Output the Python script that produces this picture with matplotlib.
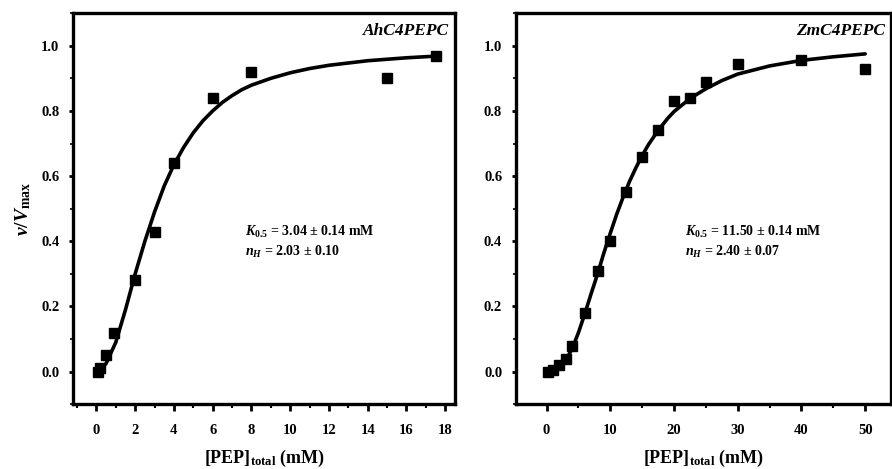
import matplotlib
matplotlib.use("Agg")
import matplotlib.pyplot as plt
from matplotlib.ticker import MultipleLocator

plt.rcParams["font.family"] = ["Liberation Serif", "DejaVu Serif"]
plt.rcParams["font.weight"] = "bold"
plt.rcParams["mathtext.fontset"] = "custom"
plt.rcParams["mathtext.rm"] = "Liberation Serif:bold"
plt.rcParams["mathtext.it"] = "Liberation Serif:italic:bold"

# AhC4PEPC: measured points
ah_x = [0.1, 0.2, 0.5, 0.9, 2, 3, 4, 6, 8, 15, 17.5]
ah_y = [0.0, 0.01, 0.05, 0.12, 0.28, 0.43, 0.64, 0.84, 0.92, 0.90, 0.967]
# AhC4PEPC: fitted curve
ah_fit_x = [0.1, 0.5, 1.0, 1.5, 2.0, 2.5, 3.0, 3.5, 4.0, 4.5, 5.0, 5.5, 6.0,
            6.5, 7.0, 7.5, 8.0, 9.0, 10, 11, 12, 14, 16, 17.5]
ah_fit_y = [0.0, 0.025, 0.09, 0.19, 0.30, 0.40, 0.49, 0.57, 0.635, 0.688,
            0.733, 0.77, 0.80, 0.826, 0.847, 0.865, 0.879, 0.90, 0.917, 0.93,
            0.94, 0.954, 0.963, 0.968]

# ZmC4PEPC: measured points
zm_x = [0.25, 1, 2, 3, 4, 6, 8, 10, 12.5, 15, 17.5, 20, 22.5, 25, 30, 40, 50]
zm_y = [0.0, 0.005, 0.02, 0.04, 0.08, 0.18, 0.31, 0.40, 0.55, 0.66, 0.74,
        0.83, 0.84, 0.89, 0.945, 0.955, 0.93]
# ZmC4PEPC: fitted curve
zm_fit_x = [0.5, 2, 3, 4, 5, 6, 7, 8, 9, 10, 11, 12, 13, 14, 15, 16, 17.5, 19,
            20, 22.5, 25, 27.5, 30, 35, 40, 45, 50]
zm_fit_y = [0.0, 0.015, 0.035, 0.07, 0.12, 0.178, 0.24, 0.30, 0.365, 0.425,
            0.483, 0.535, 0.583, 0.625, 0.663, 0.697, 0.74, 0.777, 0.798,
            0.838, 0.868, 0.893, 0.913, 0.938, 0.955, 0.966, 0.975]

PANELS = [
    ("AhC4PEPC", ah_x, ah_y, ah_fit_x, ah_fit_y, (-1.2, 18.5), 2, 1,
     "$K_{0.5}$ = 3.04 ± 0.14 mM", "$n_{H}$ = 2.03 ± 0.10"),
    ("ZmC4PEPC", zm_x, zm_y, zm_fit_x, zm_fit_y, (-4.8, 54), 10, 5,
     "$K_{0.5}$ = 11.50 ± 0.14 mM", "$n_{H}$ = 2.40 ± 0.07"),
]

fig = plt.figure(figsize=(8.92, 4.69), dpi=100)
rects = [[0.082, 0.138, 0.428, 0.834], [0.5785, 0.138, 0.42, 0.834]]

for i, (name, x, y, fx, fy, xlim, maj, mnr, t1, t2) in enumerate(PANELS):
    ax = fig.add_axes(rects[i])
    ax.plot(fx, fy, color="black", lw=2.6, solid_capstyle="round",
            solid_joinstyle="round", zorder=2)
    ax.plot(x, y, ls="none", marker="s", ms=7.5, color="black", zorder=3)
    ax.xaxis.set_major_locator(MultipleLocator(maj))
    ax.xaxis.set_minor_locator(MultipleLocator(mnr))
    ax.yaxis.set_minor_locator(MultipleLocator(0.1))
    ax.set_xticks([t for t in range(0, int(xlim[1]) + 1, maj)])
    ax.set_yticks([0.0, 0.2, 0.4, 0.6, 0.8, 1.0])
    ax.set_yticklabels(["0.0", "0.2", "0.4", "0.6", "0.8", "1.0"])
    ax.set_xlim(*xlim)
    ax.set_ylim(-0.1, 1.1)
    for s in ax.spines.values():
        s.set_linewidth(2.4)
    ax.tick_params(axis="x", which="major", direction="out", length=5,
                   width=2, pad=9, labelsize=10.5)
    ax.tick_params(axis="x", which="minor", direction="out", length=3, width=1.5)
    ax.tick_params(axis="y", which="major", direction="out", length=3,
                   width=2, pad=7, labelsize=10.5)
    ax.tick_params(axis="y", which="minor", direction="out", length=2, width=1.2)
    for lab in ax.get_xticklabels() + ax.get_yticklabels():
        lab.set_fontweight("bold")
    ax.text(0.985, 0.955, name, transform=ax.transAxes, ha="right", va="center",
            fontsize=12.5, fontweight="bold", fontstyle="italic")
    ax.text(0.45, 0.44, t1, transform=ax.transAxes, ha="left", va="center",
            fontsize=10, fontweight="bold")
    ax.text(0.45, 0.39, t2, transform=ax.transAxes, ha="left", va="center",
            fontsize=10, fontweight="bold")
    ax.set_xlabel("[PEP]$_{\\mathrm{total}}$ (mM)", fontsize=13,
                  fontweight="bold", labelpad=8)
    if i == 0:
        ax.set_ylabel("$v$/$V_{\\mathrm{max}}$", fontsize=14, fontweight="bold",
                      labelpad=6)

fig.savefig("out.png", dpi=100)
